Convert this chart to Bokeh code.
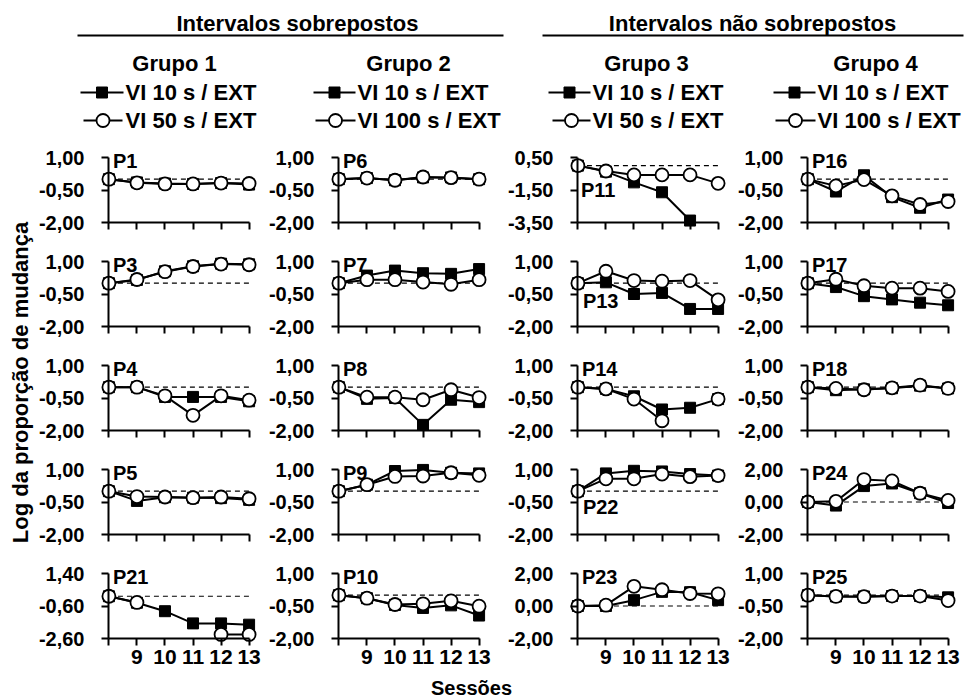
import math
import numpy as np
from bokeh.plotting import figure
from bokeh.models import (Range1d, FixedTicker, CustomJSTickFormatter, Label,
                          ColumnDataSource, LinearAxis)
from bokeh.layouts import row, column
from bokeh.embed import file_html
from bokeh.resources import INLINE
from bokeh.core.properties import value

nan = float("nan")

# ---------------- data ----------------
sessions = [8, 9, 10, 11, 12, 13]
baseline = 0.0

section_titles = ["Intervalos sobrepostos", "Intervalos não sobrepostos"]
group_titles = ["Grupo 1", "Grupo 2", "Grupo 3", "Grupo 4"]
series_a_label = "VI 10 s / EXT"
series_b_labels = ["VI 50 s / EXT", "VI 100 s / EXT", "VI 50 s / EXT", "VI 100 s / EXT"]
y_title = "Log da proporção de mudança"
x_title = "Sessões"

col1 = ["P1", "P3", "P4", "P5", "P21"]
col2 = ["P6", "P7", "P8", "P9", "P10"]
col3 = ["P11", "P13", "P14", "P22", "P23"]
col4 = ["P16", "P17", "P18", "P24", "P25"]

ticks_default = [-2.0, -0.5, 1.0]
ticks_p11 = [-3.5, -1.5, 0.5]
ticks_p21 = [-2.6, -0.6, 1.4]
ticks_pm2 = [-2.0, 0.0, 2.0]

P1_a = [0, -0.15, -0.2, -0.22, -0.18, -0.25]
P1_b = [0, -0.17, -0.22, -0.22, -0.18, -0.2]
P3_a = [0, 0.15, 0.55, 0.78, 0.9, 0.87]
P3_b = [0, 0.17, 0.53, 0.77, 0.88, 0.85]
P4_a = [0, 0, -0.45, -0.45, -0.45, -0.65]
P4_b = [0, 0, -0.4, -1.3, -0.4, -0.6]
P5_a = [0, -0.45, -0.28, -0.3, -0.32, -0.4]
P5_b = [0, -0.25, -0.27, -0.3, -0.27, -0.35]
P21_a = [0, -0.4, -0.92, -1.67, -1.67, -1.75]
P21_b = [0, -0.38, nan, nan, -2.35, -2.35]

P6_a = [0, 0.05, -0.05, 0.08, 0.08, 0]
P6_b = [0, 0.05, -0.05, 0.1, 0.07, 0]
P7_a = [0, 0.35, 0.58, 0.46, 0.43, 0.65]
P7_b = [0, 0.16, 0.16, 0.05, -0.05, 0.16]
P8_a = [0, -0.54, -0.5, -1.74, -0.58, -0.69]
P8_b = [0, -0.46, -0.46, -0.58, -0.12, -0.48]
P9_a = [0, 0.3, 0.93, 0.98, 0.85, 0.82]
P9_b = [0, 0.3, 0.68, 0.7, 0.85, 0.73]
P10_a = [0, -0.14, -0.45, -0.59, -0.47, -0.94]
P10_b = [0, -0.14, -0.43, -0.4, -0.26, -0.51]

P11_a = [0, -0.37, -1.03, -1.64, -3.38, nan]
P11_b = [0, -0.33, -0.57, -0.57, -0.57, -1.09]
P13_a = [0, 0.04, -0.5, -0.45, -1.19, -1.19]
P13_b = [0, 0.55, 0.12, 0.09, 0.12, -0.77]
P14_a = [0, -0.08, -0.42, -1.03, -0.95, -0.55]
P14_b = [0, -0.08, -0.55, -1.55, nan, -0.55]
P22_a = [0, 0.82, 0.94, 0.91, 0.79, 0.72]
P22_b = [0, 0.57, 0.57, 0.79, 0.67, 0.72]
P23_a = [0, 0, 0.36, 0.87, 0.85, 0.36]
P23_b = [0, 0.05, 1.21, 1.0, 0.77, 0.75]

P16_a = [0, -0.57, 0.18, -0.83, -1.32, -0.94]
P16_b = [0, -0.31, -0.02, -0.77, -1.17, -1.03]
P17_a = [0, -0.18, -0.6, -0.75, -0.9, -1.02]
P17_b = [0, 0.18, -0.12, -0.23, -0.23, -0.38]
P18_a = [0, -0.14, -0.1, -0.05, 0.07, -0.06]
P18_b = [0, -0.06, -0.12, -0.03, 0.09, -0.06]
P24_a = [0, -0.22, 0.98, 1.14, 0.54, -0.06]
P24_b = [0, 0.04, 1.38, 1.3, 0.54, 0.1]
P25_a = [0, -0.06, -0.06, -0.04, -0.04, -0.1]
P25_b = [0, -0.06, -0.07, -0.04, -0.04, -0.25]

data = {
    "P1": (P1_a, P1_b), "P3": (P3_a, P3_b), "P4": (P4_a, P4_b), "P5": (P5_a, P5_b), "P21": (P21_a, P21_b),
    "P6": (P6_a, P6_b), "P7": (P7_a, P7_b), "P8": (P8_a, P8_b), "P9": (P9_a, P9_b), "P10": (P10_a, P10_b),
    "P11": (P11_a, P11_b), "P13": (P13_a, P13_b), "P14": (P14_a, P14_b), "P22": (P22_a, P22_b), "P23": (P23_a, P23_b),
    "P16": (P16_a, P16_b), "P17": (P17_a, P17_b), "P18": (P18_a, P18_b), "P24": (P24_a, P24_b), "P25": (P25_a, P25_b),
}
yticks_of = {"P11": ticks_p11, "P21": ticks_p21, "P23": ticks_pm2, "P24": ticks_pm2}

# ---------------- styling / layout ----------------
FONT = "Liberation Sans"
FRAME_W = 158
AXIS_H = 65
PAD_PX = 8
BORDER_L = 64
BORDER_T = 11
BB_MID = 12
BB_BOT = 30
col_widths = [230, 239, 230, 235]
label_place = {"P11": (-1.5, 3, 0), "P13": (-0.8, 5, 0), "P22": (-0.74, 5, 0)}

yfmt = "return tick.toFixed(2).replace('.', ',');"


def style_text_axis(ax, size, standoff):
    ax.axis_line_color = None
    ax.major_tick_line_color = None
    ax.minor_tick_line_color = None
    ax.major_tick_in = 0
    ax.major_tick_out = 0
    ax.major_label_standoff = standoff
    ax.major_label_text_font = FONT
    ax.major_label_text_font_style = "bold"
    ax.major_label_text_font_size = size
    ax.major_label_text_color = "black"


def make_panel(name, width, bottom_row):
    a, b = data[name]
    yt = yticks_of.get(name, ticks_default)
    ymin, ymax = min(yt), max(yt)
    pad = PAD_PX / AXIS_H * (ymax - ymin)
    bb = BB_BOT if bottom_row else BB_MID
    p = figure(width=width, height=BORDER_T + AXIS_H + 2 * PAD_PX + bb,
               x_range=Range1d(7.7, 13.3), y_range=Range1d(ymin - pad, ymax + pad),
               output_backend="svg", toolbar_location=None,
               min_border_left=BORDER_L, min_border_right=width - BORDER_L - FRAME_W,
               min_border_top=BORDER_T, min_border_bottom=bb)
    p.outline_line_color = None
    p.grid.visible = False
    p.background_fill_color = "white"
    p.border_fill_color = "white"

    # axis lines + ticks at the data origin (session 8, lowest y tick)
    xa = p.xaxis[0]
    ya = p.yaxis[0]
    xa.fixed_location = ymin
    ya.fixed_location = sessions[0]
    xa.bounds = (sessions[0], sessions[-1])
    ya.bounds = (ymin, ymax)
    xa.ticker = FixedTicker(ticks=sessions)
    ya.ticker = FixedTicker(ticks=yt)
    for ax in (xa, ya):
        ax.axis_line_width = 2
        ax.axis_line_color = "black"
        ax.major_tick_line_width = 2
        ax.major_tick_line_color = "black"
        ax.major_tick_in = 0
        ax.major_tick_out = 7
        ax.minor_tick_line_color = None
        ax.major_label_text_color = None

    # tick labels on ordinary side axes
    yl = LinearAxis(ticker=FixedTicker(ticks=yt), formatter=CustomJSTickFormatter(code=yfmt))
    style_text_axis(yl, "20px", 16)
    p.add_layout(yl, "left")
    if bottom_row:
        xl = LinearAxis(ticker=FixedTicker(ticks=sessions), major_label_overrides={sessions[0]: ""})
        style_text_axis(xl, "21px", 3)
        p.add_layout(xl, "below")

    src = ColumnDataSource(dict(x=sessions, a=np.array(a, dtype=float), b=np.array(b, dtype=float)))
    p.segment(x0=sessions[0], y0=baseline, x1=sessions[-1], y1=baseline,
              line_color="black", line_width=1.2, line_dash="5 4")
    p.line("x", "a", source=src, line_color="black", line_width=2)
    p.scatter("x", "a", source=src, marker="square", size=11, fill_color="black", line_color="black")
    p.line("x", "b", source=src, line_color="black", line_width=2)
    p.scatter("x", "b", source=src, marker="circle", size=13, fill_color="white",
              line_color="black", line_width=1.8)

    if name in label_place:
        ly, xo, yo = label_place[name]
    else:
        ly, xo, yo = ymax, 4, -3
    p.add_layout(Label(x=sessions[0], y=ly, text=name, x_offset=xo, y_offset=yo,
                       text_font=FONT, text_font_style="bold", text_font_size="20px",
                       text_baseline="middle", text_align="left", text_color="black"))
    return p


cols = []
for ci, names in enumerate([col1, col2, col3, col4]):
    figs = [make_panel(n, col_widths[ci], ri == len(names) - 1) for ri, n in enumerate(names)]
    cols.append(column(*figs))

grid_h = 4 * (BORDER_T + AXIS_H + 2 * PAD_PX + BB_MID) + (BORDER_T + AXIS_H + 2 * PAD_PX + BB_BOT)


def blank(w, h):
    f = figure(width=w, height=h, x_range=Range1d(0, w), y_range=Range1d(0, h),
               x_axis_type=None, y_axis_type=None, output_backend="svg",
               toolbar_location=None, min_border=0)
    f.outline_line_color = None
    f.grid.visible = False
    return f


TOTAL_W = 969
YLAB_W = 35
HDR_H = 138

# y-title figure
ylab = blank(YLAB_W, grid_h)
ylab.text(x=[20], y=[grid_h - 244], text=[y_title], angle=math.pi / 2,
          text_align="center", text_baseline="middle", text_font=value(FONT),
          text_font_style="bold", text_font_size="22px", text_color="black")

# header
hdr = blank(TOTAL_W, HDR_H)
hdr.text(x=[297, 752], y=[115, 115], text=section_titles, text_align="center",
         text_baseline="middle", text_font=value(FONT), text_font_style="bold",
         text_font_size="22px", text_color="black")
hdr.segment(x0=[77, 542], y0=[103, 103], x1=[503, 963], y1=[103, 103],
            line_color="black", line_width=2)
hdr.text(x=[174, 408, 646, 875], y=[75] * 4, text=group_titles, text_align="center",
         text_baseline="middle", text_font=value(FONT), text_font_style="bold",
         text_font_size="22px", text_color="black")
leg_a_x = [(80, 123), (313, 355), (548, 590), (773, 815)]
leg_b_x = [(83, 122), (315, 355), (552, 590), (775, 815)]
leg_text_x = [125, 357, 592, 817]
for gi in range(4):
    (a0, a1), (b0, b1) = leg_a_x[gi], leg_b_x[gi]
    hdr.line([a0, a1], [46, 46], line_color="black", line_width=2)
    hdr.scatter([(a0 + a1) / 2], [46], marker="square", size=11, fill_color="black", line_color="black")
    hdr.line([b0, b1], [18, 18], line_color="black", line_width=2)
    hdr.scatter([(b0 + b1) / 2], [18], marker="circle", size=13, fill_color="white",
                line_color="black", line_width=1.8)
hdr.text(x=leg_text_x, y=[46] * 4, text=[series_a_label] * 4, text_align="left",
         text_baseline="middle", text_font=value(FONT), text_font_style="bold",
         text_font_size="22px", text_color="black")
hdr.text(x=leg_text_x, y=[18] * 4, text=series_b_labels, text_align="left",
         text_baseline="middle", text_font=value(FONT), text_font_style="bold",
         text_font_size="22px", text_color="black")

# footer
FTR_H = 699 - HDR_H - grid_h
ftr = blank(TOTAL_W, FTR_H)
ftr.text(x=[471], y=[FTR_H - 11], text=[x_title], text_align="center", text_baseline="middle",
         text_font=value(FONT), text_font_style="bold", text_font_size="20px", text_color="black")

layout = column(hdr, row(ylab, *cols), ftr)

open("out.html", "w").write(file_html(layout, INLINE))
